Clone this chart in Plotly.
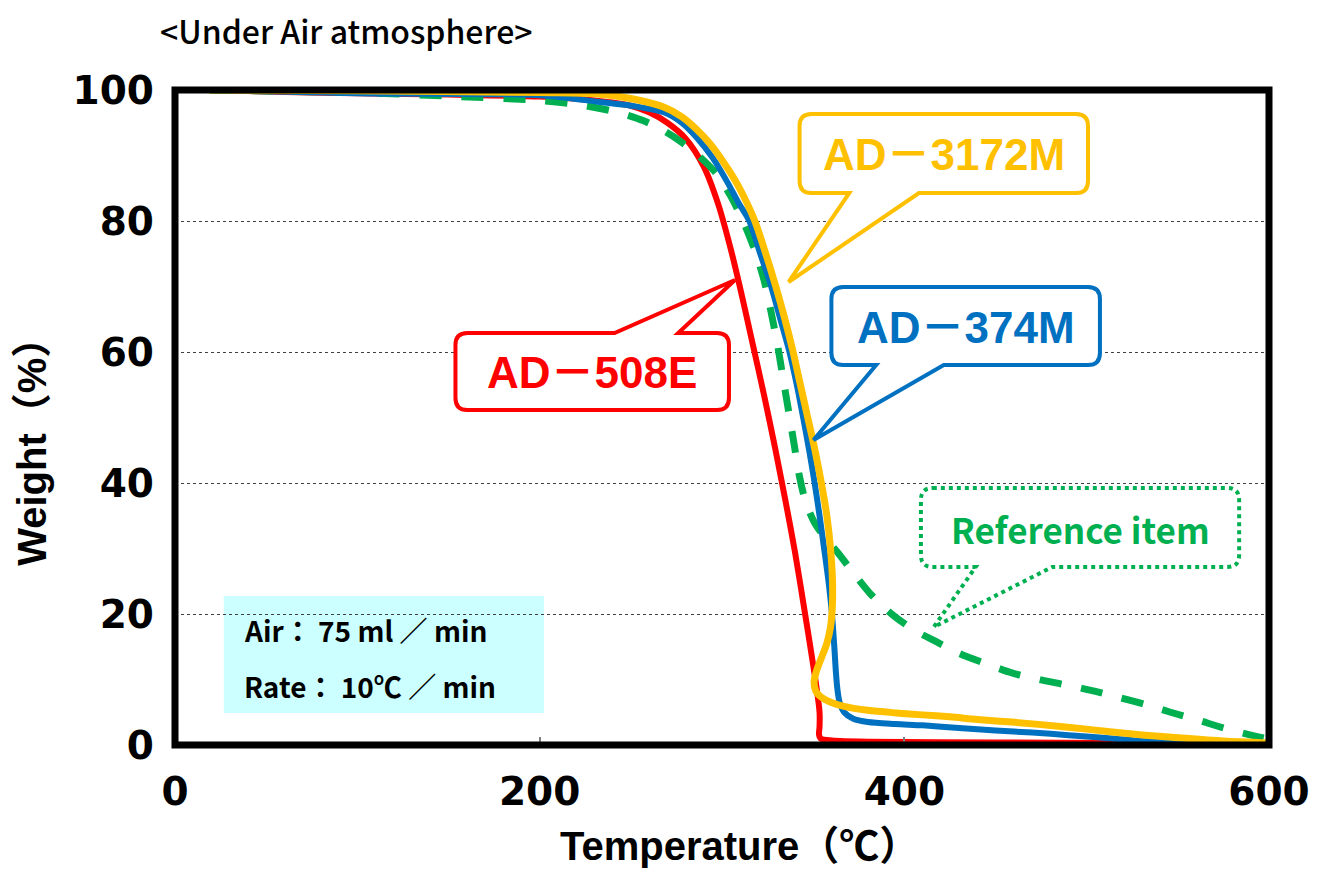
import plotly.graph_objects as go

# ---------------- data ----------------
red_T = [19, 60, 100, 150, 200, 230, 250, 260, 270, 280, 290, 298, 305, 311, 317, 323, 329, 335, 340, 345, 349, 352, 353.5, 353.5, 353.2, 354, 356, 365, 380, 450, 520, 600]
red_W = [100, 99.7, 99.5, 99.3, 99.0, 98.4, 97.6, 96.6, 95.0, 92.6, 88.3, 82.5, 75.5, 68.5, 61, 53.5, 45.5, 37, 29.5, 21, 14, 8.5, 5, 2.8, 1.6, 1.0, 0.8, 0.6, 0.5, 0.4, 0.3, 0.2]

green_T = [19, 60, 100, 155, 200, 225, 244, 257, 268, 277, 287, 297, 305, 312, 318, 323, 327, 330.5, 333.5, 336.5, 339.5, 342.5, 346, 351, 357, 364, 372, 381, 393, 405, 418, 430, 445, 459, 474, 488, 503, 517, 532, 546, 561, 575, 590, 600]
green_W = [100, 99.8, 99.6, 99.0, 98.4, 97.6, 96.5, 95.3, 93.8, 92.2, 90, 87.2, 83.7, 79.7, 75.5, 71, 66, 61, 56, 51, 46, 41, 37, 33.8, 31.5, 29.2, 26.3, 23.2, 20, 17.6, 15.7, 14, 12.4, 11, 10, 9.2, 8.3, 7.3, 6.2, 5, 3.8, 2.6, 1.5, 0.9]

blue_T = [19, 100, 200, 232, 250, 268, 278, 286, 295, 303, 309, 315, 321, 327, 332, 337, 341, 344.5, 347.8, 350.8, 353.5, 356, 358.4, 360.3, 361.6, 362.5, 363.3, 364.5, 367, 372, 380, 395, 410, 430, 450, 470, 490, 514, 530, 550, 575, 600]
blue_W = [100, 99.5, 99.2, 98.2, 97.6, 96.6, 95, 92.8, 89.6, 85.9, 82.8, 80, 75, 70, 65, 60, 55, 50, 45, 40, 35, 30, 25, 20, 15, 11, 8.5, 6.5, 5.0, 4.0, 3.5, 3.2, 3.0, 2.6, 2.2, 1.9, 1.5, 1.0, 0.6, 0.3, 0.15, 0.1]

yellow_T = [19, 100, 200, 232, 250, 268, 278, 286, 294, 301, 307, 312, 318, 324, 329.5, 334.5, 339, 343, 347, 351, 354.5, 357.5, 359.5, 360.6, 360.5, 359.5, 357.5, 354.5, 351.8, 350.5, 351.5, 354.5, 360, 367, 380, 395.5, 410, 425, 440, 459, 487, 514, 532, 550, 575, 600]
yellow_W = [100, 99.9, 99.6, 99.4, 98.7, 97.4, 95.9, 94, 91.6, 88.9, 86.3, 83.7, 80, 75, 70, 65, 60, 55, 50, 45, 40, 35, 30, 25, 21, 18, 15.5, 13.3, 11.3, 9.6, 8.2, 7.3, 6.5, 5.9, 5.3, 4.9, 4.6, 4.3, 3.9, 3.5, 2.8, 2.0, 1.5, 1.1, 0.6, 0.3]

x_ticks = [0, 200, 400, 600]
y_ticks = [0, 20, 40, 60, 80, 100]

# ---------------- layout geometry ----------------
RL, RT, PW, PH = 175, 90, 1100, 655
OFF = 8  # page body margin
W_FIG, H_FIG = 1330 - 2 * OFF, 877 - 2 * OFF
L, T = RL - OFF, RT - OFF
R = W_FIG - L - PW
B = H_FIG - T - PH


def dx(px):
    return (px - RL) / PW * 600


def dy(py):
    return (RT + PH - py) / PH * 100


def pxx(px):
    return (px - RL) / PW


def pyy(py):
    return (RT + PH - py) / PH


RED, BLUE, YEL, GRN = "#FF0000", "#0070C0", "#FFC000", "#00B050"
SM = 0.8

fig = go.Figure()
fig.add_trace(go.Scatter(x=red_T, y=red_W, mode="lines", line=dict(color=RED, width=6, shape="spline", smoothing=SM), name="AD-508E"))
fig.add_trace(go.Scatter(x=green_T, y=green_W, mode="lines", line=dict(color=GRN, width=7, dash="22px,20px", shape="spline", smoothing=SM), name="Reference item"))
fig.add_trace(go.Scatter(x=blue_T, y=blue_W, mode="lines", line=dict(color=BLUE, width=6, shape="spline", smoothing=SM), name="AD-374M"))
fig.add_trace(go.Scatter(x=yellow_T, y=yellow_W, mode="lines", line=dict(color=YEL, width=7, shape="spline", smoothing=SM), name="AD-3172M"))


def callout_path(x0, y0, x1, y1, r, side, p1, p2, tip):
    pts = []

    def P(cmd, *xy):
        s = cmd
        for i in range(0, len(xy), 2):
            s += " %.4f,%.4f" % (dx(xy[i]), dy(xy[i + 1]))
        pts.append(s)
    P("M", x0 + r, y0)
    if side == "top":
        P("L", p1, y0)
        P("L", *tip)
        P("L", p2, y0)
    P("L", x1 - r, y0)
    P("Q", x1, y0, x1, y0 + r)
    P("L", x1, y1 - r)
    P("Q", x1, y1, x1 - r, y1)
    if side == "bottom":
        P("L", p2, y1)
        P("L", *tip)
        P("L", p1, y1)
    P("L", x0 + r, y1)
    P("Q", x0, y1, x0, y1 - r)
    P("L", x0, y0 + r)
    P("Q", x0, y0, x0 + r, y0)
    return " ".join(pts) + " Z"


shapes = []
shapes.append(dict(type="rect", xref="x", yref="y", x0=dx(224), x1=dx(546), y0=dy(713), y1=dy(596),
                   fillcolor="#CCFFFF", line=dict(width=0), layer="below"))
callouts = [
    ("AD－3172M", YEL, (803, 114, 1093, 193), "bottom", 853, 923, (792, 282), "solid"),
    ("AD－374M", BLUE, (835, 287, 1105, 365), "bottom", 880, 948, (817, 440), "solid"),
    ("AD－508E", RED, (457, 333, 732, 410), "top", 617, 681, (738, 280), "solid"),
    ("Reference item", GRN, (925, 488, 1245, 567), "bottom", 980, 1057, (938, 627), "dot"),
]
annotations = []
for text, col, (x0, y0, x1, y1), side, p1, p2, tip, dash in callouts:
    shapes.append(dict(type="path", xref="x", yref="y", path=callout_path(x0, y0, x1, y1, 12, side, p1, p2, tip),
                       fillcolor="white", line=dict(color=col, width=4, dash=dash)))
    if text == "Reference item":
        fnt = dict(family="Noto Sans CJK JP", size=35, color=col)
    else:
        fnt = dict(family="Liberation Sans, Noto Sans CJK JP", size=44, color=col)
    annotations.append(dict(xref="x", yref="y", x=dx((x0 + x1) / 2), y=dy((y0 + y1) / 2 + 1), text="<b>%s</b>" % text,
                            showarrow=False, font=fnt, xanchor="center", yanchor="middle"))

shapes.append(dict(type="rect", xref="paper", yref="paper", x0=0, x1=1, y0=0, y1=1,
                   line=dict(color="black", width=7), layer="above"))

info_font = dict(family="Noto Sans CJK JP", size=28, color="black")
annotations.append(dict(xref="paper", yref="paper", x=pxx(242), y=pyy(630), text="<b>Air： 75 ml ／ min</b>", showarrow=False,
                        xanchor="left", yanchor="middle", font=info_font))
annotations.append(dict(xref="paper", yref="paper", x=pxx(242), y=pyy(686), text="<b>Rate： 10℃ ／ min</b>", showarrow=False,
                        xanchor="left", yanchor="middle", font=info_font))
annotations.append(dict(xref="paper", yref="paper", x=pxx(158), y=pyy(30), text="&lt;Under Air atmosphere&gt;",
                        showarrow=False, xanchor="left", yanchor="middle",
                        font=dict(family="Noto Sans CJK JP", size=32, color="black", weight=500)))
annotations.append(dict(xref="paper", yref="paper", x=pxx(743), y=pyy(846), text="<b>Temperature（℃）</b>",
                        showarrow=False, xanchor="center", yanchor="middle",
                        font=dict(family="Liberation Sans, Noto Sans CJK JP", size=40, color="black")))
annotations.append(dict(xref="paper", yref="paper", x=pxx(31), y=pyy(442), text="<b>Weight（%）</b>",
                        showarrow=False, xanchor="center", yanchor="middle", textangle=-90,
                        font=dict(family="Liberation Sans, Noto Sans CJK JP", size=40, color="black")))

tick_font = dict(family="DejaVu Sans", size=39, color="black", weight="bold")
fig.update_layout(
    width=W_FIG, height=H_FIG,
    margin=dict(l=L, r=R, t=T, b=B),
    paper_bgcolor="white", plot_bgcolor="white",
    showlegend=False,
    shapes=shapes, annotations=annotations,
    xaxis=dict(range=[0, 600], tickvals=x_ticks, ticktext=[str(v) for v in x_ticks], showgrid=False, zeroline=False,
               ticks="inside", ticklen=8, tickcolor="#808080", tickwidth=2,
               tickfont=tick_font, ticklabelstandoff=20),
    yaxis=dict(range=[0, 100], tickvals=y_ticks, ticktext=[str(v) for v in y_ticks], showgrid=True,
               gridcolor="#404040", griddash="dot", gridwidth=1, zeroline=False, ticks="",
               tickfont=tick_font, ticklabelstandoff=20),
)

fig.write_html("out.html")
